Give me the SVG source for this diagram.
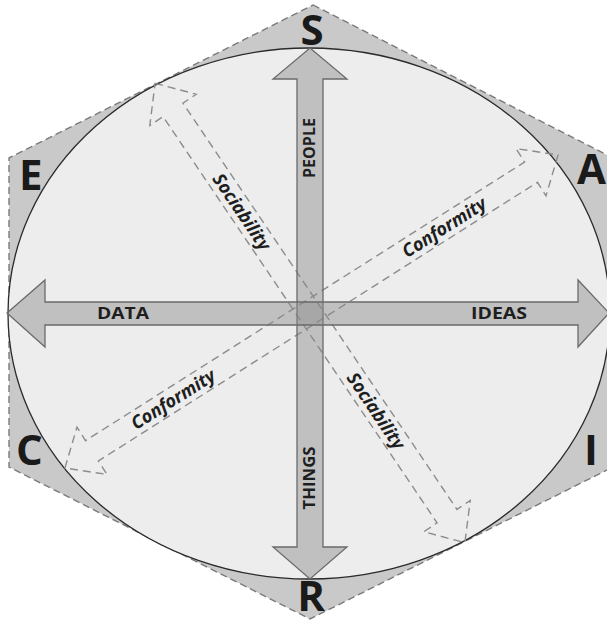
<svg xmlns="http://www.w3.org/2000/svg" width="607" height="622" viewBox="0 0 607 622">
  <style>
    .hex { fill: #c9c9c9; stroke: #7a7a7a; stroke-width: 1.4; stroke-dasharray: 7 4; }
    .oval { fill: #ededed; stroke: #2a2a2a; stroke-width: 1.3; }
    .dash { fill: none; stroke: #8c8c8c; stroke-width: 1.4; stroke-dasharray: 8 5; }
    .main { fill: #8a8a8a; fill-opacity: 0.45; stroke: #6a6a6a; stroke-width: 1.3; }
    .big { font-family: "Open Sans", "Liberation Sans", sans-serif; font-weight: 700; font-size: 42px; fill: #1a1a1a; }
    .lbl { font-family: "Open Sans", "Liberation Sans", sans-serif; font-weight: 700; font-size: 16px; fill: #1e1e1e; }
    .dl { font-family: "Open Sans", "Liberation Sans", sans-serif; font-weight: 700; font-style: italic; font-size: 18px; fill: #1e1e1e; }
  </style>
  <rect width="607" height="622" fill="#ffffff"/>
  <g id="background">
    <polygon class="hex" points="313,5 613,158 613,467 310,619 9,467 9,158"/>
    <ellipse class="oval" cx="309" cy="313.5" rx="301" ry="265.5"/>
  </g>
  <g id="connectors">
    <g id="sociability-arrow" transform="translate(310,313) rotate(56)">
      <polygon class="dash" points="-277,0 -245,-28 -245,-12 245,-12 245,-28 277,0 245,28 245,12 -245,12 -245,28"/>
      <text class="dl" x="-122" y="0" dy="0.35em" text-anchor="middle">Sociability</text>
      <text class="dl" x="118" y="0" dy="0.35em" text-anchor="middle">Sociability</text>
    </g>
    <g id="conformity-arrow" transform="translate(311.5,311.5) rotate(-32.4)">
      <polygon class="dash" points="-292,0 -260,-28 -260,-12 260,-12 260,-28 292,0 260,28 260,12 -260,12 -260,28"/>
      <text class="dl" x="157" y="0" dy="0.35em" text-anchor="middle">Conformity</text>
      <text class="dl" x="-164" y="0" dy="0.35em" text-anchor="middle">Conformity</text>
    </g>
    <g id="vertical-arrow">
      <polygon class="main" points="310,48 347,79 323,79 323,547 347,547 310,579 273,547 297,547 297,79 273,79"/>
      <text class="lbl" transform="translate(309,148) rotate(-90)" text-anchor="middle" dy="0.35em" textLength="60" lengthAdjust="spacingAndGlyphs">PEOPLE</text>
      <text class="lbl" transform="translate(309,478) rotate(-90)" text-anchor="middle" dy="0.35em" textLength="63" lengthAdjust="spacingAndGlyphs">THINGS</text>
    </g>
    <g id="horizontal-arrow">
      <polygon class="main" points="7,313 45,280 45,302 578,302 578,280 609,313 578,347 578,325 45,325 45,347"/>
      <text class="lbl" x="123" y="313" dy="0.35em" text-anchor="middle" textLength="52" lengthAdjust="spacingAndGlyphs">DATA</text>
      <text class="lbl" x="499" y="313" dy="0.35em" text-anchor="middle" textLength="56" lengthAdjust="spacingAndGlyphs">IDEAS</text>
    </g>
  </g>
  <g id="node-S"><text class="big" x="312" y="45" text-anchor="middle">S</text></g>
  <g id="node-E"><text class="big" x="19" y="190">E</text></g>
  <g id="node-A"><text class="big" x="577" y="184">A</text></g>
  <g id="node-C"><text class="big" x="16" y="465">C</text></g>
  <g id="node-I"><text class="big" x="584" y="465">I</text></g>
  <g id="node-R"><text class="big" x="311" y="611" text-anchor="middle">R</text></g>
</svg>
